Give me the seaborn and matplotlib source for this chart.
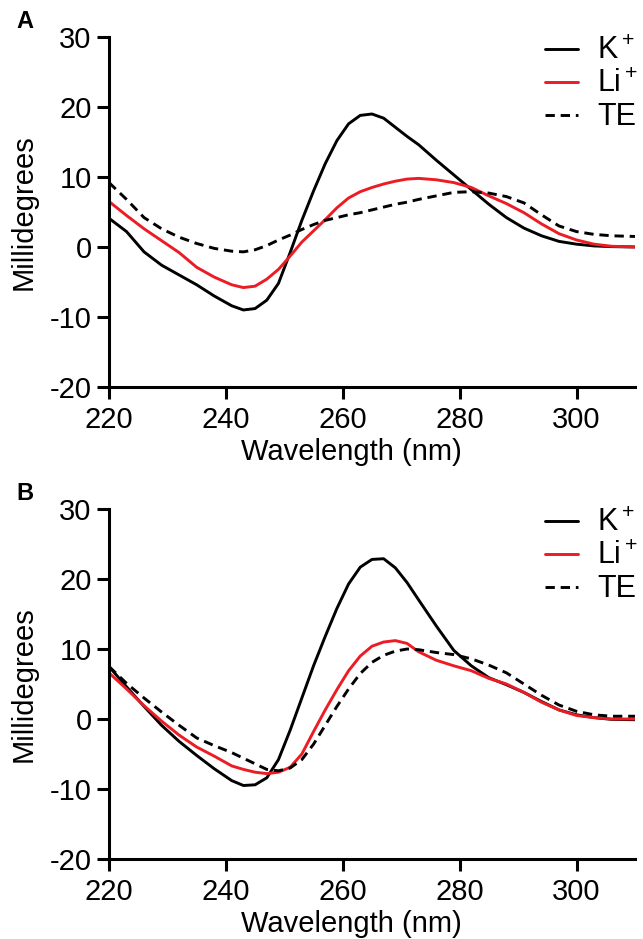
import pandas as pd
import seaborn as sns
import matplotlib.pyplot as plt

# wavelength grid (nm) shared by all traces
wavelength = [220, 223, 226, 229, 232, 235, 238, 241, 243, 245, 247, 249, 251, 253, 255,
              257, 259, 261, 263, 265, 267, 269, 271, 273, 276, 279, 282, 285, 288, 291,
              294, 297, 300, 303, 306, 310]

# panel A
k_a = [4.1, 2.2, -0.7, -2.6, -4.0, -5.4, -7.0, -8.4, -9.0, -8.8, -7.6, -5.2, -0.8, 3.8, 8.0,
       11.9, 15.2, 17.6, 18.8, 19.0, 18.4, 17.1, 15.8, 14.6, 12.4, 10.3, 8.2, 6.1, 4.2, 2.7,
       1.6, 0.8, 0.4, 0.15, 0.05, 0.0]
li_a = [6.5, 4.5, 2.6, 0.9, -0.8, -2.9, -4.3, -5.4, -5.8, -5.6, -4.6, -3.2, -1.3, 0.7, 2.3,
        3.9, 5.6, 7.0, 7.9, 8.5, 9.0, 9.4, 9.7, 9.8, 9.6, 9.2, 8.5, 7.3, 6.2, 4.9,
        3.3, 1.9, 1.0, 0.4, 0.1, 0.0]
te_a = [9.2, 6.8, 4.2, 2.6, 1.4, 0.5, -0.2, -0.6, -0.7, -0.4, 0.2, 1.0, 1.7, 2.5, 3.2,
        3.8, 4.2, 4.6, 4.9, 5.3, 5.7, 6.1, 6.4, 6.8, 7.3, 7.8, 7.9, 7.7, 7.2, 6.3,
        4.6, 3.0, 2.2, 1.8, 1.6, 1.5]

# panel B
k_b = [7.5, 4.6, 1.8, -0.9, -3.2, -5.2, -7.1, -8.8, -9.5, -9.4, -8.4, -5.8, -1.6, 3.0, 7.6,
       11.8, 15.8, 19.3, 21.7, 22.8, 22.9, 21.6, 19.5, 17.0, 13.3, 9.8, 7.6, 5.9, 4.9, 3.8,
       2.5, 1.3, 0.6, 0.2, -0.05, -0.1]
li_b = [6.6, 4.3, 1.9, -0.3, -2.3, -4.0, -5.3, -6.7, -7.2, -7.6, -7.8, -7.6, -6.9, -5.0, -1.8,
        1.3, 4.2, 6.9, 9.0, 10.4, 11.0, 11.2, 10.8, 9.6, 8.4, 7.6, 6.9, 5.8, 5.0, 3.8,
        2.4, 1.3, 0.5, 0.2, 0.0, 0.0]
te_b = [7.5, 5.1, 3.0, 1.0, -0.9, -2.7, -3.8, -4.8, -5.6, -6.4, -7.2, -7.4, -7.0, -5.8, -3.6,
        -0.9, 1.8, 4.3, 6.5, 8.1, 9.1, 9.7, 10.0, 9.9, 9.5, 9.2, 8.6, 7.7, 6.6, 5.0,
        3.4, 2.0, 1.1, 0.6, 0.4, 0.4]

panel_labels = ['A', 'B']
series_labels = ['K$^+$', 'Li$^+$', 'TE']
x_ticks = [220, 240, 260, 280, 300]
y_ticks = [-20, -10, 0, 10, 20, 30]

RED = '#ec1c24'

sns.set_style('ticks')
plt.rcParams['font.family'] = ['Liberation Sans', 'DejaVu Sans']
plt.rcParams['mathtext.fontset'] = 'custom'
plt.rcParams['mathtext.rm'] = 'Liberation Sans'
plt.rcParams['mathtext.it'] = 'Liberation Sans'
plt.rcParams['axes.unicode_minus'] = False
for key in ['text.color', 'axes.labelcolor', 'axes.edgecolor', 'xtick.color', 'ytick.color']:
    plt.rcParams[key] = 'black'

fig = plt.figure(figsize=(6.43, 9.39), dpi=100)
axes = [fig.add_axes([0.1695, 0.5879, 0.818, 0.3727]),
        fig.add_axes([0.1695, 0.0852, 0.818, 0.3727])]

panels = [(k_a, li_a, te_a), (k_b, li_b, te_b)]

for ax, (k, li, te), plabel in zip(axes, panels, panel_labels):
    df = pd.DataFrame({'wl': wavelength, 'k': k, 'li': li, 'te': te})
    sns.lineplot(data=df, x='wl', y='k', ax=ax, color='black', lw=2.1, label=series_labels[0])
    sns.lineplot(data=df, x='wl', y='li', ax=ax, color=RED, lw=2.1, label=series_labels[1])
    sns.lineplot(data=df, x='wl', y='te', ax=ax, color='black', lw=2.1,
                 linestyle=(0, (3.2, 2.0)), label=series_labels[2])

    ax.set_xlim(220, 310)
    ax.set_ylim(-20, 30)
    ax.set_xticks(x_ticks)
    ax.set_yticks(y_ticks)
    sns.despine(ax=ax)
    for sp in ['left', 'bottom']:
        ax.spines[sp].set_linewidth(2.2)
    ax.tick_params(axis='both', width=2.2, length=8.5, labelsize=21, color='black')
    ax.tick_params(axis='y', pad=4)
    ax.tick_params(axis='x', pad=5)

    ax.set_xlabel('Wavelength (nm)', fontsize=21)
    ax.xaxis.set_label_coords(0.46, -0.186)
    ax.xaxis.label.set_va('center')
    ax.set_ylabel('Millidegrees', fontsize=21)
    ax.yaxis.set_label_coords(-0.163, 0.5)
    ax.yaxis.label.set_va('center')

    ax.legend(loc='upper right', bbox_to_anchor=(1.047, 1.063), frameon=False,
              fontsize=22, handlelength=1.1, handletextpad=0.62, labelspacing=0.1,
              borderpad=0.2)

    ax.text(-0.16, 1.045, plabel, transform=ax.transAxes, fontsize=17,
            fontweight='bold', ha='center', va='center')

fig.savefig('out.png', dpi=100)
